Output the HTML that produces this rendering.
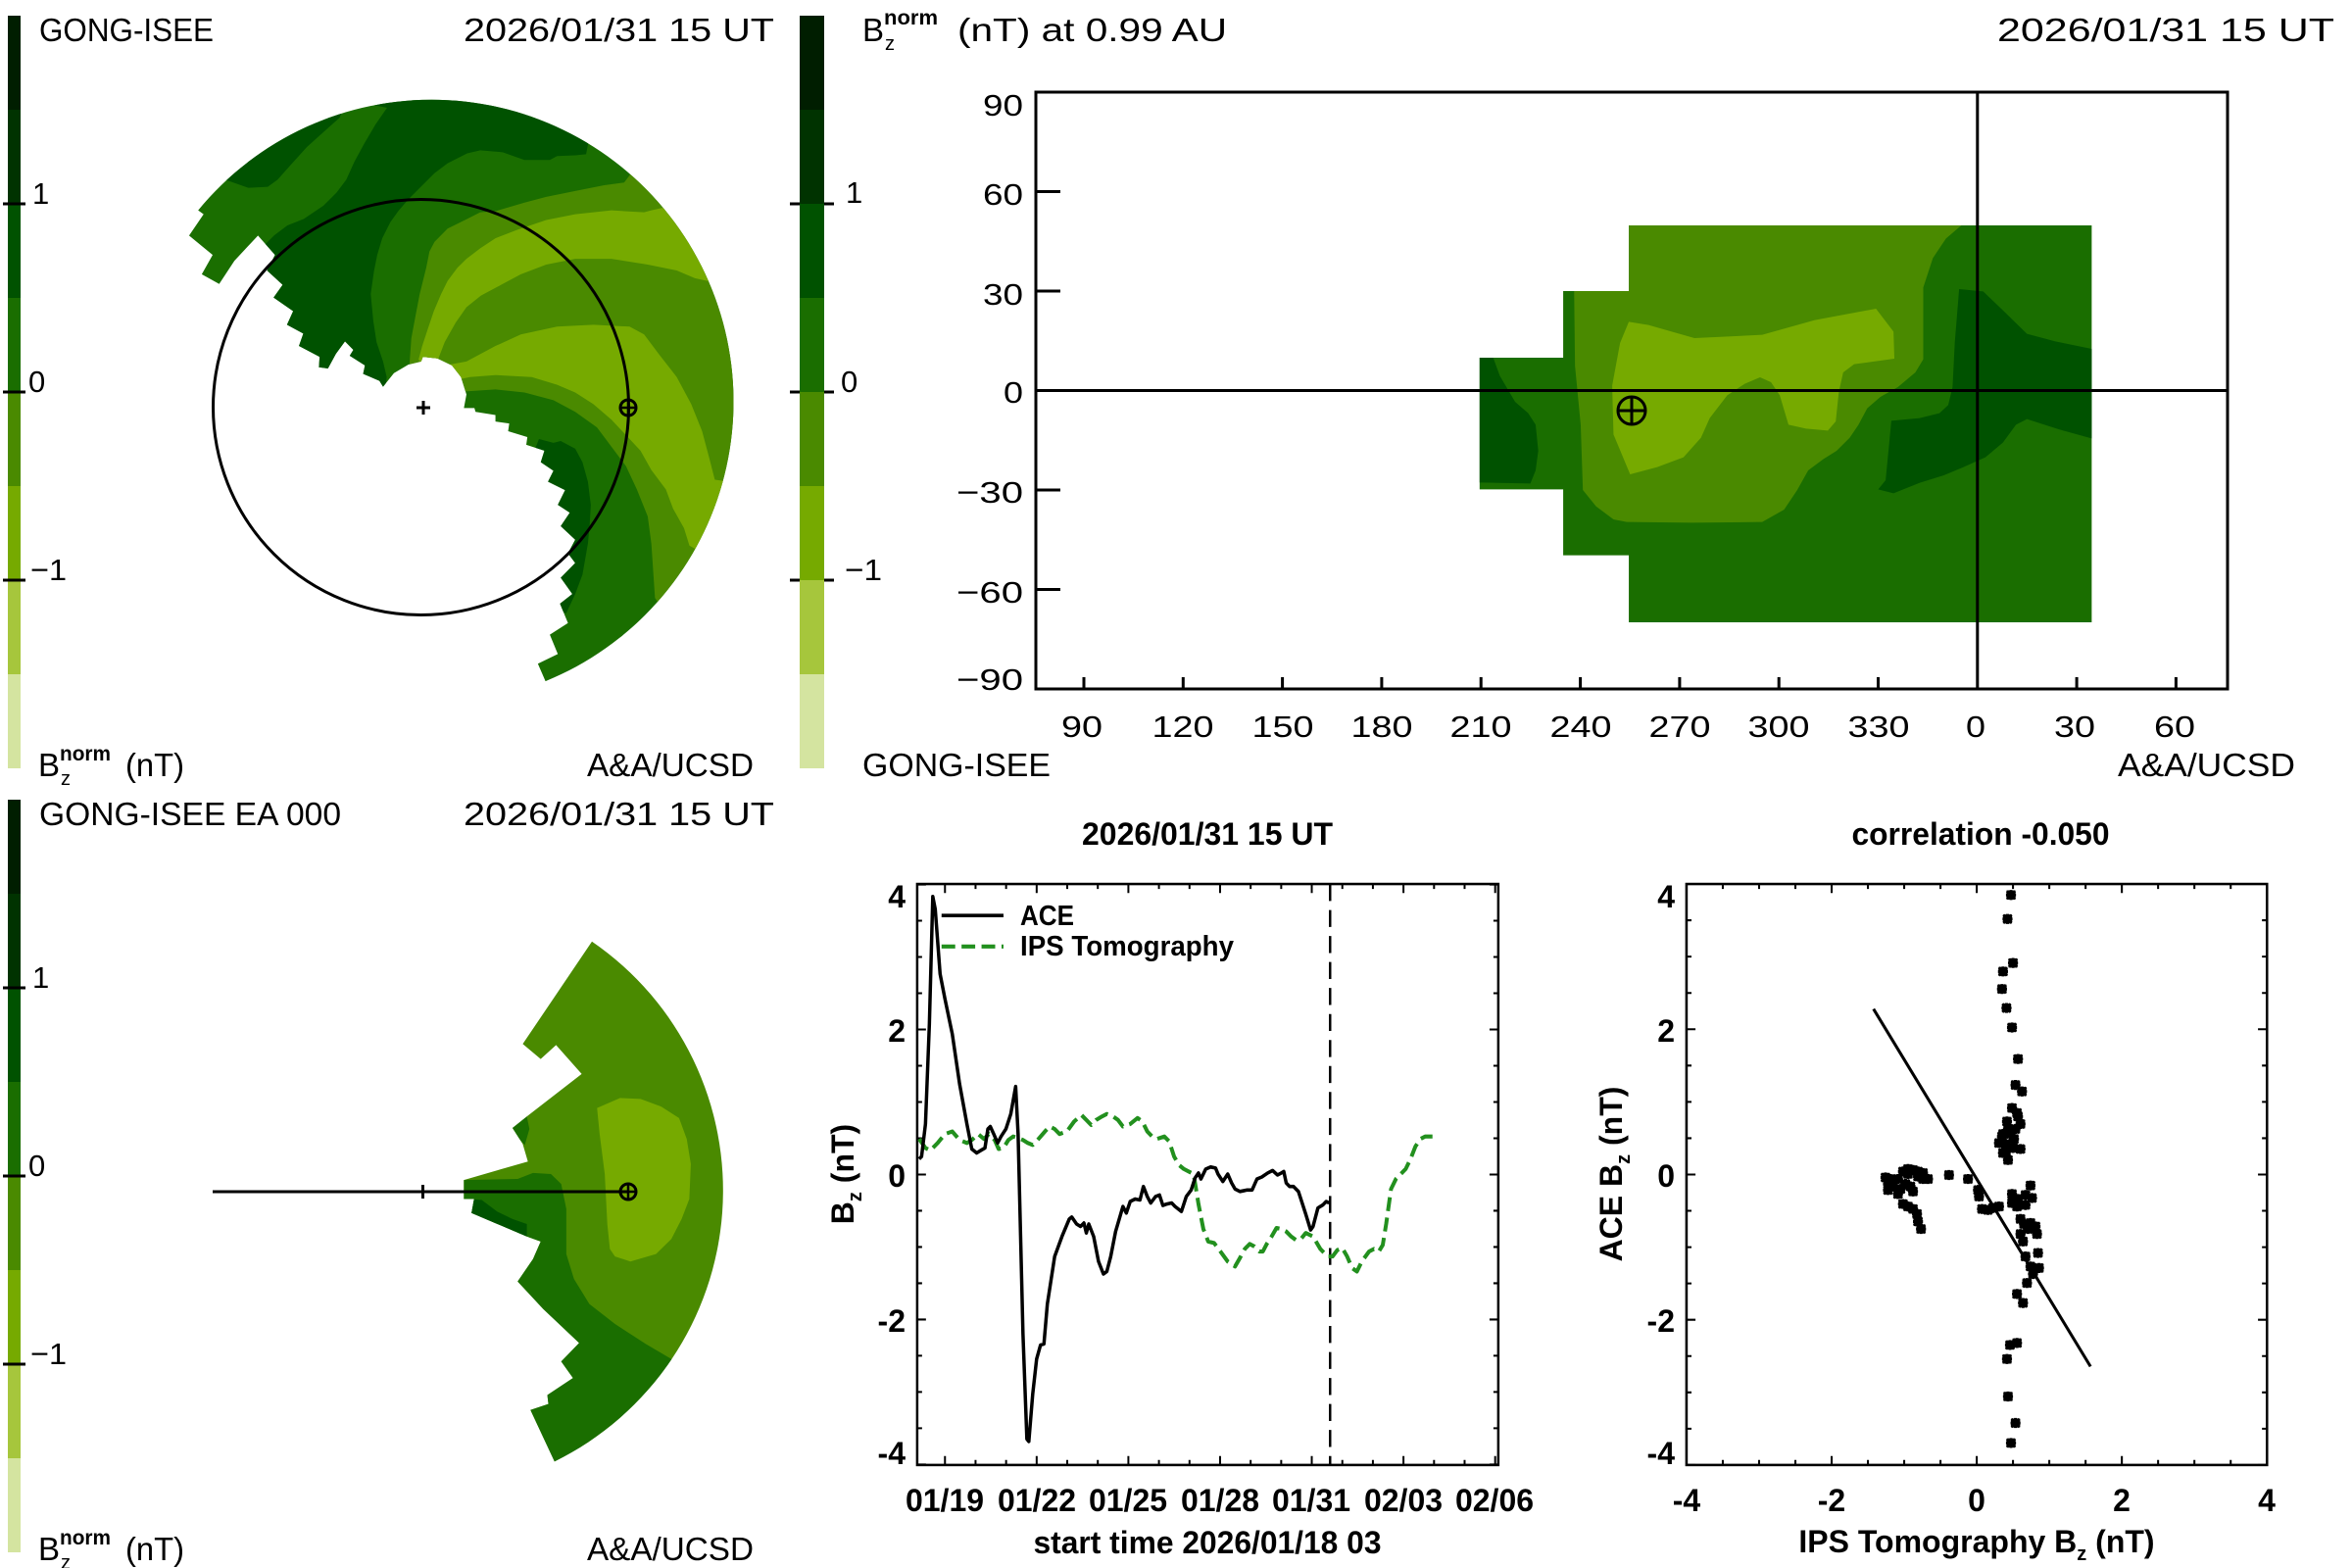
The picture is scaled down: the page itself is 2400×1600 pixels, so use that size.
<!DOCTYPE html>
<html><head><meta charset="utf-8"><style>
html,body{margin:0;padding:0;background:#fff;}
svg{display:block;}
text{font-family:"Liberation Sans",sans-serif;fill:#000;}
.r{font-size:33px;}
.t{font-size:31px;}
.b{font-weight:bold;font-size:32px;}
</style></head><body>
<svg width="2400" height="1600" viewBox="0 0 2400 1600" xmlns="http://www.w3.org/2000/svg">
<defs>
<clipPath id="w1"><path d="M60 290 L75 300 L35 355 L100 405 L70 455 L118 480 L160 420 L225 355 L272 405 L250 445 L293 482 L268 515 L322 550 L305 585 L350 608 L338 640 L395 668 L393 695 L418 698 L440 660 L465 628 L488 650 L478 665 L520 690 L515 712 L560 730 L570 745 L600 710 L640 688 L675 680 L680 668 L720 672 L760 690 L785 720 L800 765 L793 800 L822 800 L825 810 L880 818 L880 835 L918 840 L915 860 L968 875 L965 895 L1015 910 L1005 940 L1040 962 L1025 990 L1072 1012 L1052 1050 L1085 1070 L1060 1105 L1100 1140 L1080 1175 L1100 1200 L1060 1238 L1092 1280 L1058 1305 L1080 1355 L1030 1385 L1052 1435 L997 1460 L1018 1505 A832.5 779 0 1 0 60 290 Z"/></clipPath>
<clipPath id="w2"><path d="M1155 315 L1020 520 L1055 550 L1085 522 L1135 580 L1028 665 L1000 688 L1020 720 L1030 755 L905 792 L905 830 L925 830 L920 858 L1028 905 L1055 915 L1040 950 L1010 995 L1060 1050 L1130 1118 L1095 1155 L1118 1188 L1068 1222 L1070 1240 L1035 1252 L1082 1355 A589 604 0 0 0 1155 315 Z"/></clipPath>
<path id="m" d="M-10 0h20M0-10v20M-8-8l16 16M-8 8l16-16M-6-6h12v12h-12z" stroke="#000" stroke-width="6" fill="#000"/>
</defs>

<!-- ================= TOP LEFT ================= -->
<g>
<rect x="8" y="16" width="13" height="96" fill="#001e00"/>
<rect x="8" y="112" width="13" height="96" fill="#003300"/>
<rect x="8" y="208" width="13" height="96" fill="#005200"/>
<rect x="8" y="304" width="13" height="96" fill="#1a6e00"/>
<rect x="8" y="400" width="13" height="96" fill="#4a8a00"/>
<rect x="8" y="496" width="13" height="96" fill="#76aa00"/>
<rect x="8" y="592" width="13" height="96" fill="#a6c63c"/>
<rect x="8" y="688" width="13" height="96" fill="#d4e4a0"/>
<path d="M3 208H26M3 400H26M3 592H26" stroke="#000" stroke-width="3"/>
<text class="t" x="33" y="208">1</text>
<text class="t" x="29" y="400">0</text>
<text class="t" x="31" y="592" textLength="37" lengthAdjust="spacingAndGlyphs">−1</text>
<text class="r" x="40" y="42" textLength="178" lengthAdjust="spacingAndGlyphs">GONG-ISEE</text>
<text class="r" x="473" y="42" textLength="317" lengthAdjust="spacingAndGlyphs">2026/01/31 15 UT</text>
<text class="r" x="39" y="792">B</text>
<text x="62" y="801" font-size="20">z</text>
<text x="61" y="776" font-size="21" font-weight="bold" textLength="52" lengthAdjust="spacingAndGlyphs">norm</text>
<text class="r" x="128" y="792" textLength="60" lengthAdjust="spacingAndGlyphs">(nT)</text>
<text class="r" x="599" y="792" textLength="170" lengthAdjust="spacingAndGlyphs">A&amp;A/UCSD</text>

<g transform="translate(180,100) scale(0.36996,0.39541)">
<path d="M60 290 L75 300 L35 355 L100 405 L70 455 L118 480 L160 420 L225 355 L272 405 L250 445 L293 482 L268 515 L322 550 L305 585 L350 608 L338 640 L395 668 L393 695 L418 698 L440 660 L465 628 L488 650 L478 665 L520 690 L515 712 L560 730 L570 745 L600 710 L640 688 L675 680 L680 668 L720 672 L760 690 L785 720 L800 765 L793 800 L822 800 L825 810 L880 818 L880 835 L918 840 L915 860 L968 875 L965 895 L1015 910 L1005 940 L1040 962 L1025 990 L1072 1012 L1052 1050 L1085 1070 L1060 1105 L1100 1140 L1080 1175 L1100 1200 L1060 1238 L1092 1280 L1058 1305 L1080 1355 L1030 1385 L1052 1435 L997 1460 L1018 1505 A832.5 779 0 1 0 60 290 Z" fill="#1a6e00"/>
<g clip-path="url(#w1)">
<polygon fill="#005200" points="100,150 135,210.7 198,231.8 252,229.3 279,210.7 315,172.8 360,126.5 405,88.5 450.5,50.6 470,0 0,0 0,150"/>
<polygon fill="#005200" points="450,0 581,25.3 549.6,67.5 518,118 491,164.4 468.5,210.7 441.5,244.5 405.5,278 351.4,311.9 306.3,328.8 270.3,354 252,371 200,420 380,750 575,765 580,720 570,680 552,630 543,575 536,505.8 545,446.8 554,404.6 567.6,362.4 590,320.4 612.8,290.8 639.8,261.3 675.8,227.6 711.7,194 748,168.6 802,143 838,135 900,140 960,160 1030,160 1050,150 1100,148 1130,145 1160,0"/>
<polygon fill="#4a8a00" points="1290,150 1235,218 1180,225 1100,240 1020,255 960,270 880,292 838,295 802,312 748,337 712,371 698,396 689,438 671,506 660,560 648,620 643,685 700,700 790,770 798,757 880,752 960,760 1040,780 1100,810 1160,850 1200,900 1240,950 1270,1010 1300,1080 1310,1150 1320,1290 1400,1400 1700,1200 1700,150"/>
<polygon fill="#76aa00" points="1310,290 1290,295 1200,290 1100,300 1020,315 940,340 880,362 838,388 800,415 775,438 748,472 730,506 710,550 692,600 678,640 668,675 690,700 722,674 740,630 770,580 800,540 840,510 900,480 950,455 1020,430 1100,415 1200,415 1300,430 1380,445 1430,465 1600,500 1500,250"/>
<polygon fill="#76aa00" points="740,690 800,680 880,640 950,610 1050,590 1150,585 1250,590 1290,610 1330,660 1380,720 1420,790 1450,860 1470,930 1485,985 1600,1000 1500,1200 1415,1155 1400,1110 1370,1060 1350,1010 1310,960 1280,910 1240,870 1200,830 1150,790 1100,760 1050,740 980,720 880,715 810,720 760,730"/>
<polygon fill="#005200" points="1040,890 1060,885 1100,905 1120,940 1135,990 1143,1050 1140,1100 1135,1150 1120,1230 1100,1280 1075,1330 1000,1300 950,1000 1000,880"/>
</g>
</g>
<circle cx="429.5" cy="415.5" r="212" fill="none" stroke="#000" stroke-width="3"/>
<path d="M425 416h14M432 409v14" stroke="#000" stroke-width="3"/>
<circle cx="641" cy="416" r="8" fill="none" stroke="#000" stroke-width="3"/>
<path d="M633 416h16M641 408v16" stroke="#000" stroke-width="2.5"/>
</g>

<!-- ================= TOP RIGHT ================= -->
<g>
<path d="M806 208H851M806 400H851M806 592H851" stroke="#000" stroke-width="3"/>
<rect x="816" y="16" width="25" height="96" fill="#001e00"/>
<rect x="816" y="112" width="25" height="96" fill="#003300"/>
<rect x="816" y="208" width="25" height="96" fill="#005200"/>
<rect x="816" y="304" width="25" height="96" fill="#1a6e00"/>
<rect x="816" y="400" width="25" height="96" fill="#4a8a00"/>
<rect x="816" y="496" width="25" height="96" fill="#76aa00"/>
<rect x="816" y="592" width="25" height="96" fill="#a6c63c"/>
<rect x="816" y="688" width="25" height="96" fill="#d4e4a0"/>
<text class="t" x="863" y="207">1</text>
<text class="t" x="858" y="400">0</text>
<text class="t" x="862" y="592" textLength="38" lengthAdjust="spacingAndGlyphs">−1</text>

<text class="r" x="880" y="42">B</text>
<text x="903" y="51" font-size="20">z</text>
<text x="902" y="25" font-size="21" font-weight="bold" textLength="55" lengthAdjust="spacingAndGlyphs">norm</text>
<text class="r" x="977" y="42" textLength="275" lengthAdjust="spacingAndGlyphs">(nT) at 0.99 AU</text>
<text class="r" x="2038" y="42" textLength="344" lengthAdjust="spacingAndGlyphs">2026/01/31 15 UT</text>
<text class="r" x="880" y="792" textLength="192" lengthAdjust="spacingAndGlyphs">GONG-ISEE</text>
<text class="r" x="2161" y="792" textLength="181" lengthAdjust="spacingAndGlyphs">A&amp;A/UCSD</text>

<g transform="translate(1450,200) scale(0.44643,0.33333)">
<path fill="#1a6e00" d="M475 90 L1533 90 L1533 1305 L475 1305 L475 1100 L325 1100 L325 898 L134 898 L134 495 L325 495 L325 291 L475 291 Z"/>
<polygon fill="#4a8a00" points="350,291 475,291 475,90 1235,90 1200,130 1170,190 1148,280 1148,500 1130,540 1090,585 1050,615 1020,650 1000,700 980,740 950,780 920,805 885,840 860,900 830,960 780,998 620,1000 470,998 440,990 400,950 370,900 365,700 352,520"/>
<polygon fill="#76aa00" points="475,385 520,395 625,435 780,425 900,380 1040,345 1080,415 1082,498 990,515 965,540 955,600 948,690 930,718 880,712 840,700 820,610 800,570 775,555 740,575 700,610 660,680 640,740 600,800 540,830 478,852 440,730 437,580 455,450"/>
<polygon fill="#005200" points="134,495 165,495 180,550 215,630 245,665 262,700 268,780 262,840 250,880 134,877"/>
<polygon fill="#005200" points="1230,285 1285,292 1330,350 1385,422 1450,445 1533,468 1533,742 1460,715 1385,683 1360,700 1330,755 1290,800 1240,830 1195,855 1140,878 1080,910 1045,898 1062,870 1070,760 1075,688 1140,680 1185,665 1205,640 1215,585 1220,450"/>
</g>
<rect x="1057" y="94" width="1216" height="609" fill="none" stroke="#000" stroke-width="3"/>
<path d="M1057 398.5H2273M2017.8 94V703" stroke="#000" stroke-width="3"/>
<path d="M1057 195.5h25M1057 297h25M1057 500h25M1057 601.5h25M1106 703v-12M1207.3 703v-12M1308.6 703v-12M1409.9 703v-12M1511.2 703v-12M1612.6 703v-12M1713.9 703v-12M1815.2 703v-12M1916.5 703v-12M2119.1 703v-12M2220.4 703v-12" stroke="#000" stroke-width="3"/>
<circle cx="1665" cy="419" r="14" fill="none" stroke="#000" stroke-width="3"/>
<path d="M1665 405v28M1651 419h28" stroke="#000" stroke-width="3"/>
<g text-anchor="end">
<text class="t" x="1044" y="118" textLength="41" lengthAdjust="spacingAndGlyphs">90</text>
<text class="t" x="1044" y="209" textLength="41" lengthAdjust="spacingAndGlyphs">60</text>
<text class="t" x="1044" y="311" textLength="41" lengthAdjust="spacingAndGlyphs">30</text>
<text class="t" x="1044" y="411" textLength="20" lengthAdjust="spacingAndGlyphs">0</text>
<text class="t" x="1044" y="513" textLength="68" lengthAdjust="spacingAndGlyphs">−30</text>
<text class="t" x="1044" y="615" textLength="68" lengthAdjust="spacingAndGlyphs">−60</text>
<text class="t" x="1044" y="704" textLength="68" lengthAdjust="spacingAndGlyphs">−90</text>
</g>
<g text-anchor="middle">
<text class="t" x="1104" y="752" textLength="42" lengthAdjust="spacingAndGlyphs">90</text>
<text class="t" x="1207" y="752" textLength="63" lengthAdjust="spacingAndGlyphs">120</text>
<text class="t" x="1309" y="752" textLength="63" lengthAdjust="spacingAndGlyphs">150</text>
<text class="t" x="1410" y="752" textLength="63" lengthAdjust="spacingAndGlyphs">180</text>
<text class="t" x="1511" y="752" textLength="63" lengthAdjust="spacingAndGlyphs">210</text>
<text class="t" x="1613" y="752" textLength="63" lengthAdjust="spacingAndGlyphs">240</text>
<text class="t" x="1714" y="752" textLength="63" lengthAdjust="spacingAndGlyphs">270</text>
<text class="t" x="1815" y="752" textLength="63" lengthAdjust="spacingAndGlyphs">300</text>
<text class="t" x="1917" y="752" textLength="63" lengthAdjust="spacingAndGlyphs">330</text>
<text class="t" x="2016" y="752" textLength="20" lengthAdjust="spacingAndGlyphs">0</text>
<text class="t" x="2117" y="752" textLength="42" lengthAdjust="spacingAndGlyphs">30</text>
<text class="t" x="2219" y="752" textLength="42" lengthAdjust="spacingAndGlyphs">60</text>
</g>
</g>

<!-- ================= BOTTOM LEFT ================= -->
<g>
<rect x="8" y="816" width="13" height="96" fill="#001e00"/>
<rect x="8" y="912" width="13" height="96" fill="#003300"/>
<rect x="8" y="1008" width="13" height="96" fill="#005200"/>
<rect x="8" y="1104" width="13" height="96" fill="#1a6e00"/>
<rect x="8" y="1200" width="13" height="96" fill="#4a8a00"/>
<rect x="8" y="1296" width="13" height="96" fill="#76aa00"/>
<rect x="8" y="1392" width="13" height="96" fill="#a6c63c"/>
<rect x="8" y="1488" width="13" height="96" fill="#d4e4a0"/>
<path d="M3 1008H26M3 1200H26M3 1392H26" stroke="#000" stroke-width="3"/>
<text class="t" x="33" y="1008">1</text>
<text class="t" x="29" y="1200">0</text>
<text class="t" x="31" y="1392" textLength="37" lengthAdjust="spacingAndGlyphs">−1</text>
<text class="r" x="40" y="842" textLength="308" lengthAdjust="spacingAndGlyphs">GONG-ISEE EA 000</text>
<text class="r" x="473" y="842" textLength="317" lengthAdjust="spacingAndGlyphs">2026/01/31 15 UT</text>
<text class="r" x="39" y="1592">B</text>
<text x="62" y="1601" font-size="20">z</text>
<text x="61" y="1576" font-size="21" font-weight="bold" textLength="52" lengthAdjust="spacingAndGlyphs">norm</text>
<text class="r" x="128" y="1592" textLength="60" lengthAdjust="spacingAndGlyphs">(nT)</text>
<text class="r" x="599" y="1592" textLength="170" lengthAdjust="spacingAndGlyphs">A&amp;A/UCSD</text>

<g transform="translate(0,800) scale(0.52296,0.5102)">
<path fill="#4a8a00" d="M1155 315 L1020 520 L1055 550 L1085 522 L1135 580 L1028 665 L1000 688 L1020 720 L1030 755 L905 792 L905 830 L925 830 L920 858 L1028 905 L1055 915 L1040 950 L1010 995 L1060 1050 L1130 1118 L1095 1155 L1118 1188 L1068 1222 L1070 1240 L1035 1252 L1082 1355 A589 604 0 0 0 1155 315 Z"/>
<g clip-path="url(#w2)">
<polygon fill="#1a6e00" points="905,792 1010,790 1040,778 1075,780 1095,800 1105,850 1105,940 1120,990 1150,1040 1200,1080 1260,1120 1310,1150 1400,1250 1100,1500 800,1000"/>
<polygon fill="#1a6e00" points="995,690 1028,665 1033,690 1024,722"/>
<polygon fill="#005200" points="918,830 940,832 970,855 1000,870 1028,880 1028,905 960,880 918,858"/>
<polygon fill="#76aa00" points="1165,648 1210,628 1250,630 1290,645 1325,668 1340,710 1348,760 1345,830 1330,870 1310,910 1280,940 1230,955 1200,945 1190,930 1185,880 1180,780 1170,700"/>
</g>
</g>
<path d="M217 1216H641M431.5 1209v14" stroke="#000" stroke-width="3"/>
<circle cx="641" cy="1216" r="8" fill="none" stroke="#000" stroke-width="3"/>
<path d="M633 1216h16M641 1208v16" stroke="#000" stroke-width="2.5"/>
</g>

<!-- ================= BOTTOM MIDDLE (time series) ================= -->
<g>
<text class="b" x="1232" y="862" text-anchor="middle" textLength="256" lengthAdjust="spacingAndGlyphs">2026/01/31 15 UT</text>
<g transform="translate(820,800) scale(0.49745,0.5102)" fill="none">
<rect x="233" y="200" width="1192" height="1162" stroke="#000" stroke-width="5"/>
<path stroke="#000" stroke-width="4" d="M233 201h18M233 491h18M233 781h18M233 1071h18M233 1361h18M233 273.5h10M233 346h10M233 418.5h10M233 563.5h10M233 636h10M233 708.5h10M233 853.5h10M233 926h10M233 998.5h10M233 1143.5h10M233 1216h10M233 1288.5h10M1425 201h-18M1425 491h-18M1425 781h-18M1425 1071h-18M1425 1361h-18M1425 273.5h-10M1425 346h-10M1425 418.5h-10M1425 563.5h-10M1425 636h-10M1425 708.5h-10M1425 853.5h-10M1425 926h-10M1425 998.5h-10M1425 1143.5h-10M1425 1216h-10M1425 1288.5h-10M290 1362v-18M478.1 1362v-18M666.2 1362v-18M854.3 1362v-18M1042.4 1362v-18M1230.5 1362v-18M1418.6 1362v-18M352.7 1362v-10M415.4 1362v-10M540.8 1362v-10M603.5 1362v-10M728.9 1362v-10M791.6 1362v-10M917 1362v-10M979.7 1362v-10M1105.1 1362v-10M1167.8 1362v-10M1293.2 1362v-10M1355.9 1362v-10M290 200v18M478.1 200v18M666.2 200v18M854.3 200v18M1042.4 200v18M1230.5 200v18M1418.6 200v18M352.7 200v10M415.4 200v10M540.8 200v10M603.5 200v10M728.9 200v10M791.6 200v10M917 200v10M979.7 200v10M1105.1 200v10M1167.8 200v10M1293.2 200v10M1355.9 200v10"/>
<path d="M1080 200V1362" stroke="#000" stroke-width="5" stroke-dasharray="34 18"/>
<path stroke="#22901e" stroke-width="8" stroke-dasharray="28 13" stroke-linejoin="round" d="M237,710 L250,728 L260,733 L275,718 L290,700 L305,695 L320,712 L335,718 L345,712 L358,700 L370,710 L380,700 L392,712 L400,730 L410,728 L420,712 L430,705 L440,708 L450,712 L460,718 L470,722 L480,712 L495,695 L505,685 L515,690 L525,700 L540,695 L555,675 L570,662 L580,672 L590,682 L600,672 L612,665 L622,660 L635,665 L645,672 L655,685 L670,680 L685,668 L695,675 L705,695 L715,705 L725,710 L740,705 L750,715 L760,745 L770,762 L780,770 L790,775 L800,780 L810,840 L820,890 L830,915 L842,918 L855,935 L870,955 L885,965 L895,948 L905,930 L915,920 L925,925 L935,935 L942,935 L950,920 L960,905 L970,888 L980,890 L990,895 L1000,905 L1010,912 L1020,910 L1030,898 L1045,905 L1060,930 L1075,945 L1085,945 L1095,932 L1105,928 L1115,945 L1125,968 L1135,975 L1145,955 L1160,935 L1170,930 L1180,935 L1188,922 L1195,880 L1205,810 L1215,790 L1225,780 L1235,770 L1245,750 L1255,725 L1265,710 L1275,705 L1290,705"/>
<path stroke="#000" stroke-width="7" stroke-linejoin="round" d="M237,750 L242,745 L250,680 L258,480 L265,225 L270,250 L280,380 L290,430 L305,500 L320,600 L335,680 L345,730 L355,738 L365,732 L372,728 L378,690 L383,685 L390,700 L398,718 L405,705 L415,690 L425,660 L435,605 L440,700 L450,1100 L458,1310 L462,1315 L470,1220 L478,1150 L486,1122 L493,1120 L500,1040 L515,945 L530,905 L545,870 L550,866 L560,880 L568,885 L575,878 L580,898 L585,880 L595,905 L605,955 L615,980 L622,975 L630,945 L640,895 L655,845 L662,858 L670,835 L680,830 L690,832 L697,805 L705,825 L712,838 L722,825 L730,822 L737,843 L745,840 L755,838 L762,845 L775,855 L785,825 L795,812 L803,788 L810,778 L815,790 L825,770 L835,766 L845,768 L850,780 L860,795 L870,780 L878,798 L885,810 L895,815 L910,812 L920,812 L930,790 L940,786 L952,778 L962,773 L972,782 L980,778 L985,775 L990,798 L997,805 L1005,805 L1015,815 L1020,830 L1030,860 L1040,892 L1045,885 L1055,848 L1065,842 L1072,835 L1078,838"/>
<path d="M283 263H410" stroke="#000" stroke-width="7"/>
<path d="M283 325H410" stroke="#22901e" stroke-width="8" stroke-dasharray="28 13"/>
</g>
<text class="b" x="1041" y="944" style="font-size:29px" textLength="55" lengthAdjust="spacingAndGlyphs">ACE</text>
<text class="b" x="1041" y="975" style="font-size:29px" textLength="218" lengthAdjust="spacingAndGlyphs">IPS Tomography</text>
<g text-anchor="end">
<text class="b" x="924" y="926">4</text>
<text class="b" x="924" y="1063">2</text>
<text class="b" x="924" y="1211">0</text>
<text class="b" x="924" y="1359">-2</text>
<text class="b" x="924" y="1494">-4</text>
</g>
<g text-anchor="middle">
<text class="b" x="964" y="1542">01/19</text>
<text class="b" x="1058" y="1542">01/22</text>
<text class="b" x="1151" y="1542">01/25</text>
<text class="b" x="1245" y="1542">01/28</text>
<text class="b" x="1338" y="1542">01/31</text>
<text class="b" x="1432" y="1542">02/03</text>
<text class="b" x="1525" y="1542">02/06</text>
<text class="b" x="1232" y="1585" textLength="355" lengthAdjust="spacingAndGlyphs">start time 2026/01/18 03</text>
</g>
<text class="b" transform="translate(871,1198) rotate(-90)" text-anchor="middle">B<tspan font-size="20" dy="8">z</tspan><tspan dy="-8"> (nT)</tspan></text>
</g>

<!-- ================= BOTTOM RIGHT (scatter) ================= -->
<g>
<text class="b" x="2021" y="862" text-anchor="middle" textLength="263" lengthAdjust="spacingAndGlyphs">correlation -0.050</text>
<g transform="translate(1600,800) scale(0.5102)">
<rect x="237" y="200" width="1161" height="1162" fill="none" stroke="#000" stroke-width="5"/>
<path fill="none" stroke="#000" stroke-width="4" d="M237 200h18M237 490.5h18M237 781h18M237 1071.5h18M237 1362h18M237 272.6h10M237 345.2h10M237 417.9h10M237 563.1h10M237 635.8h10M237 708.4h10M237 853.6h10M237 926.3h10M237 998.9h10M237 1144.1h10M237 1216.8h10M237 1289.4h10M1398 200h-18M1398 490.5h-18M1398 781h-18M1398 1071.5h-18M1398 1362h-18M1398 272.6h-10M1398 345.2h-10M1398 417.9h-10M1398 563.1h-10M1398 635.8h-10M1398 708.4h-10M1398 853.6h-10M1398 926.3h-10M1398 998.9h-10M1398 1144.1h-10M1398 1216.8h-10M1398 1289.4h-10M527.3 1362v-18M817.5 1362v-18M1107.7 1362v-18M309.6 1362v-10M382.2 1362v-10M454.8 1362v-10M599.9 1362v-10M672.4 1362v-10M745 1362v-10M890 1362v-10M962.6 1362v-10M1035.2 1362v-10M1180.2 1362v-10M1252.8 1362v-10M1325.4 1362v-10M527.3 200v18M817.5 200v18M1107.7 200v18M309.6 200v10M382.2 200v10M454.8 200v10M599.9 200v10M672.4 200v10M745 200v10M890 200v10M962.6 200v10M1035.2 200v10M1180.2 200v10M1252.8 200v10M1325.4 200v10"/>
<path d="M611 450L1045 1165" stroke="#000" stroke-width="6"/>
<g>
<use href="#m" x="886" y="222"/><use href="#m" x="879" y="270"/><use href="#m" x="890" y="358"/><use href="#m" x="870" y="375"/><use href="#m" x="868" y="410"/><use href="#m" x="877" y="448"/><use href="#m" x="888" y="487"/><use href="#m" x="900" y="550"/><use href="#m" x="895" y="602"/><use href="#m" x="908" y="615"/><use href="#m" x="888" y="648"/><use href="#m" x="878" y="675"/><use href="#m" x="870" y="700"/><use href="#m" x="880" y="690"/><use href="#m" x="900" y="665"/><use href="#m" x="905" y="680"/><use href="#m" x="895" y="690"/><use href="#m" x="868" y="705"/><use href="#m" x="876" y="735"/><use href="#m" x="890" y="728"/><use href="#m" x="905" y="730"/><use href="#m" x="880" y="752"/><use href="#m" x="870" y="738"/><use href="#m" x="885" y="700"/><use href="#m" x="898" y="658"/><use href="#m" x="875" y="720"/><use href="#m" x="892" y="710"/><use href="#m" x="862" y="718"/>
<use href="#m" x="888" y="820"/><use href="#m" x="900" y="830"/><use href="#m" x="915" y="822"/><use href="#m" x="928" y="828"/><use href="#m" x="925" y="803"/><use href="#m" x="888" y="838"/><use href="#m" x="898" y="845"/><use href="#m" x="915" y="842"/><use href="#m" x="905" y="870"/><use href="#m" x="912" y="880"/><use href="#m" x="925" y="878"/><use href="#m" x="935" y="885"/><use href="#m" x="938" y="900"/><use href="#m" x="910" y="915"/><use href="#m" x="905" y="900"/><use href="#m" x="920" y="890"/><use href="#m" x="915" y="945"/><use href="#m" x="925" y="965"/><use href="#m" x="940" y="938"/><use href="#m" x="942" y="968"/><use href="#m" x="930" y="980"/><use href="#m" x="918" y="998"/><use href="#m" x="898" y="1020"/><use href="#m" x="910" y="1038"/><use href="#m" x="898" y="1118"/><use href="#m" x="884" y="1122"/><use href="#m" x="878" y="1150"/><use href="#m" x="880" y="1225"/><use href="#m" x="895" y="1278"/><use href="#m" x="886" y="1318"/>
<use href="#m" x="635" y="787"/><use href="#m" x="640" y="800"/><use href="#m" x="650" y="795"/><use href="#m" x="660" y="790"/><use href="#m" x="670" y="775"/><use href="#m" x="680" y="770"/><use href="#m" x="690" y="772"/><use href="#m" x="700" y="775"/><use href="#m" x="710" y="778"/><use href="#m" x="720" y="790"/><use href="#m" x="675" y="800"/><use href="#m" x="685" y="805"/><use href="#m" x="665" y="810"/><use href="#m" x="640" y="812"/><use href="#m" x="670" y="840"/><use href="#m" x="680" y="845"/><use href="#m" x="690" y="850"/><use href="#m" x="698" y="860"/><use href="#m" x="700" y="875"/><use href="#m" x="706" y="890"/><use href="#m" x="660" y="820"/><use href="#m" x="690" y="815"/><use href="#m" x="700" y="785"/><use href="#m" x="710" y="790"/><use href="#m" x="650" y="805"/><use href="#m" x="680" y="780"/><use href="#m" x="645" y="790"/>
<use href="#m" x="762" y="782"/><use href="#m" x="800" y="790"/><use href="#m" x="820" y="812"/><use href="#m" x="822" y="825"/><use href="#m" x="828" y="850"/><use href="#m" x="840" y="852"/><use href="#m" x="850" y="848"/><use href="#m" x="862" y="845"/>
</g>
</g>
<g text-anchor="end">
<text class="b" x="1709" y="926">4</text>
<text class="b" x="1709" y="1063">2</text>
<text class="b" x="1709" y="1211">0</text>
<text class="b" x="1709" y="1359">-2</text>
<text class="b" x="1709" y="1494">-4</text>
</g>
<g text-anchor="middle">
<text class="b" x="1721" y="1542">-4</text>
<text class="b" x="1869" y="1542">-2</text>
<text class="b" x="2017" y="1542">0</text>
<text class="b" x="2165" y="1542">2</text>
<text class="b" x="2313" y="1542">4</text>
<text class="b" x="2017" y="1584">IPS Tomography B<tspan font-size="20" dy="8">z</tspan><tspan dy="-8"> (nT)</tspan></text>
</g>
<text class="b" transform="translate(1655,1198) rotate(-90)" text-anchor="middle">ACE B<tspan font-size="20" dy="8">z</tspan><tspan dy="-8"> (nT)</tspan></text>
</g>
</svg>
</body></html>
